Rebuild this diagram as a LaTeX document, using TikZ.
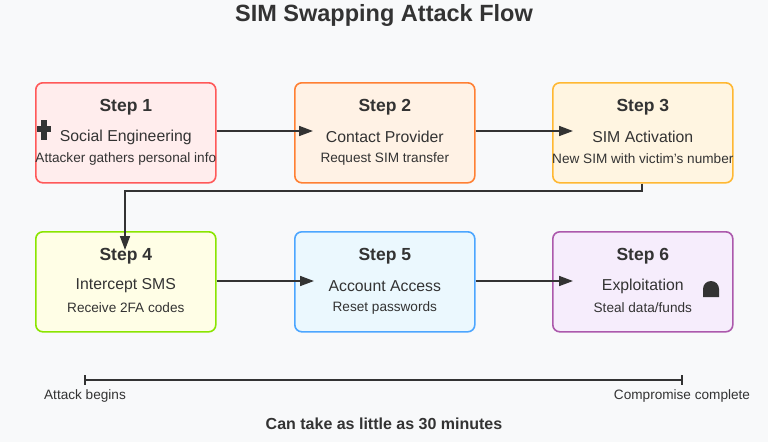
\documentclass[tikz,border=0pt]{standalone}
\usepackage{fontspec}
\setmainfont{Liberation Sans}
\usetikzlibrary{arrows.meta}
\definecolor{bg}{HTML}{F8F9FA}
\definecolor{txt}{HTML}{333333}
\definecolor{ln}{HTML}{333333}
\definecolor{f3}{HTML}{FFF5E1}
\definecolor{f6}{HTML}{F6EDFC}
\tikzset{
 box/.style={draw, line width=1.6pt, rounded corners=7pt, minimum width=180pt, minimum height=100pt, anchor=north west},
 hd/.style={font=\fontsize{17.5}{20}\selectfont\bfseries, text=txt},
 tt/.style={font=\fontsize{15.8}{18}\selectfont, text=txt},
 sb/.style={font=\fontsize{13.6}{15}\selectfont, text=txt},
 arr/.style={draw=ln, line width=1.6pt, -{Triangle[length=14pt,width=10pt]}},
}
\begin{document}
\begin{tikzpicture}[x=1pt,y=-1pt]
\fill[bg] (0,0) rectangle (768,442);
\useasboundingbox (0,0) rectangle (768,442);
\node[font=\fontsize{23.5}{27}\selectfont\bfseries, text=txt] (title) at (384,15) {SIM Swapping Attack Flow};
\node[box, draw=red!65!white, fill=red!7!white] (b1) at (35,82) {};
\node[box, draw=orange!75!red!80!white, fill=orange!10!white] (b2) at (294,82) {};
\node[box, draw=orange!70!yellow!80!white, fill=f3] (b3) at (552,82) {};
\node[box, draw=lime!80!green!90!black, fill=yellow!10!white] (b4) at (35,231) {};
\node[box, draw=blue!50!cyan!70!white, fill=cyan!8!white] (b5) at (294,231) {};
\node[box, draw=violet!65!white, fill=f6] (b6) at (552,231) {};
% texts
\foreach \b/\n/\t/\s in {b1/1/{Social Engineering}/{Attacker gathers personal info}, b2/2/{Contact Provider}/{Request SIM transfer}, b3/3/{SIM Activation}/{New SIM with victim's number}, b4/4/{Intercept SMS}/{Receive 2FA codes}, b5/5/{Account Access}/{Reset passwords}, b6/6/{Exploitation}/{Steal data{/}funds}}{
 \node[hd] (\b h) at ([yshift=-25]\b.north) {Step \n};
 \node[tt] (\b t) at ([yshift=-55]\b.north) {\t};
 \node[sb] (\b s) at ([yshift=-77]\b.north) {\s};
}
% icons
\fill[ln] (41,120) rectangle (47,140);
\fill[ln] (37,126) rectangle (51,132);
\fill[ln] (703,297) -- (703,289) arc (180:360:8) -- (719,297) -- cycle;
\coordinate (a1) at (313,131);
\coordinate (a2) at (573,131);
\coordinate (a4) at (314,281);
\coordinate (a5) at (573,281);
\coordinate (a3) at (125,250);
\draw[arr] (b1.east |- a1) -- (a1);
\draw[arr] (b2.east |- a2) -- (a2);
\draw[arr] (b4.east |- a4) -- (a4);
\draw[arr] (b5.east |- a5) -- (a5);
\draw[arr] (b3.south -| 642,0) -- (642,191) -- (125,191) -- (a3);
% timeline
\coordinate (t1) at (85,380);
\coordinate (t2) at (682,380);
\draw[ln, line width=1.3pt] (t1) -- (t2);
\draw[ln, line width=1.3pt] (85,375) -- (85,385) (682,375) -- (682,385);
\node[sb] (l1) at (85,396) {Attack begins};
\node[sb] (l2) at (682,396) {Compromise complete};
\node[font=\fontsize{16}{18}\selectfont\bfseries, text=txt] (ft) at (384,424) {Can take as little as 30 minutes};
\end{tikzpicture}
\end{document}
